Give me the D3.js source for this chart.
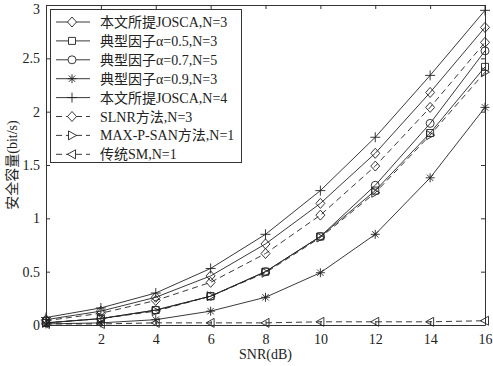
<!DOCTYPE html>
<html>
<head>
<meta charset="utf-8">
<script src="https://cdn.jsdelivr.net/npm/d3@7"></script>
<style>
  body { margin: 0; background: #fff; }
  text { font-family: "Liberation Serif", "Times New Roman", "Noto Sans CJK SC", serif; }
</style>
</head>
<body>
<svg width="493" height="366"></svg>
<script>
(function () {
    'use strict';

    var snr = [0, 2, 4, 6, 8, 10, 12, 14, 16];
    var joscaN3 = [0.05, 0.13, 0.26, 0.46, 0.76, 1.14, 1.61, 2.18, 2.79];
    var alpha05 = [0.02, 0.06, 0.14, 0.27, 0.50, 0.83, 1.26, 1.80, 2.42];
    var alpha07 = [0.02, 0.06, 0.14, 0.27, 0.50, 0.83, 1.31, 1.89, 2.57];
    var alpha09 = [0.01, 0.02, 0.05, 0.13, 0.26, 0.49, 0.85, 1.38, 2.04];
    var joscaN4 = [0.07, 0.16, 0.30, 0.53, 0.85, 1.26, 1.76, 2.34, 2.95];
    var slnr = [0.04, 0.11, 0.23, 0.40, 0.67, 1.03, 1.49, 2.04, 2.65];
    var maxpsan = [0.02, 0.06, 0.13, 0.27, 0.49, 0.82, 1.24, 1.78, 2.37];
    var sm = [0.01, 0.01, 0.02, 0.02, 0.02, 0.03, 0.03, 0.03, 0.04];

    var legendLabels = ['本文所提JOSCA,N=3', '典型因子α=0.5,N=3', '典型因子α=0.7,N=5',
        '典型因子α=0.9,N=3', '本文所提JOSCA,N=4', 'SLNR方法,N=3',
        'MAX-P-SAN方法,N=1', '传统SM,N=1'];
    var xTicks = [2, 4, 6, 8, 10, 12, 14, 16];
    var yTicks = [0, 0.5, 1, 1.5, 2, 2.5, 3];

    var series = [
        {values: joscaN3, marker: 'diamond', dash: null},
        {values: alpha05, marker: 'square', dash: null},
        {values: alpha07, marker: 'circle', dash: null},
        {values: alpha09, marker: 'star', dash: null},
        {values: joscaN4, marker: 'plus', dash: null},
        {values: slnr, marker: 'diamond', dash: '6,4'},
        {values: maxpsan, marker: 'triright', dash: '6,4'},
        {values: sm, marker: 'trileft', dash: '6,4'}
    ];

    var svg = d3.select('svg');
    var left = 46, right = 485, top = 5, bottom = 325;

    var x = d3.scaleLinear().domain([0, 16]).range([left, right]);
    var y = d3.scaleLinear().domain([0, 3]).range([bottom, top]);

    function markerPath(type) {
        switch (type) {
            case 'diamond': return 'M0,-5L4.5,0L0,5L-4.5,0Z';
            case 'square': return 'M-3.5,-3.5H3.5V3.5H-3.5Z';
            case 'circle': return 'M4,0A4,4 0 1,1 -4,0A4,4 0 1,1 4,0Z';
            case 'plus': return 'M-5,0H5M0,-5V5';
            case 'star': return 'M-4.5,0H4.5M0,-4.5V4.5M-3.2,-3.2L3.2,3.2M-3.2,3.2L3.2,-3.2';
            case 'triright': return 'M4.5,0L-3.5,-4.5L-3.5,4.5Z';
            case 'trileft': return 'M-4.5,0L3.5,-4.5L3.5,4.5Z';
        }
    }

    // box + ticks
    var axisColor = '#333';
    var gx = svg.append('g').attr('transform', 'translate(0,' + bottom + ')')
        .call(d3.axisBottom(x).tickValues(xTicks).tickSizeInner(-4).tickSizeOuter(0).tickPadding(9));
    var gxTop = svg.append('g').attr('transform', 'translate(0,' + top + ')')
        .call(d3.axisTop(x).tickValues(xTicks).tickSizeInner(-4).tickSizeOuter(0).tickFormat(''));
    var gy = svg.append('g').attr('transform', 'translate(' + left + ',0)')
        .call(d3.axisLeft(y).tickValues(yTicks).tickSizeInner(-4).tickSizeOuter(0).tickPadding(6)
            .tickFormat(d3.format('')));
    var gyRight = svg.append('g').attr('transform', 'translate(' + right + ',0)')
        .call(d3.axisRight(y).tickValues(yTicks).tickSizeInner(-4).tickSizeOuter(0).tickFormat(''));

    [gx, gxTop, gy, gyRight].forEach(function (g) {
        g.selectAll('path, line').attr('stroke', axisColor);
        g.selectAll('text').attr('fill', '#222').style('font-size', '14px')
            .style('font-family', '"Liberation Serif", serif');
    });
    // keep the top label inside the picture
    gy.selectAll('.tick').filter(function (d) { return d === 3; })
        .select('text').attr('dy', '0.62em');

    var line = d3.line()
        .x(function (d, i) { return x(snr[i]); })
        .y(function (d) { return y(d); });

    var gLines = svg.append('g');
    series.forEach(function (s) {
        gLines.append('path')
            .attr('d', line(s.values))
            .attr('fill', 'none')
            .attr('stroke', '#222')
            .attr('stroke-width', 0.9)
            .attr('stroke-dasharray', s.dash);
        gLines.selectAll(null).data(s.values).enter().append('path')
            .attr('transform', function (d, i) { return 'translate(' + x(snr[i]) + ',' + y(d) + ')'; })
            .attr('d', markerPath(s.marker))
            .attr('fill', 'none')
            .attr('stroke', '#222')
            .attr('stroke-width', 0.9);
    });

    // legend
    var lg = svg.append('g');
    lg.append('rect')
        .attr('x', 50.5).attr('y', 9.5)
        .attr('width', 191).attr('height', 153)
        .attr('fill', '#fff').attr('stroke', axisColor);

    legendLabels.forEach(function (lab, i) {
        var ly = 22 + i * 18.9;
        var s = series[i];
        lg.append('line')
            .attr('x1', 56).attr('x2', 90).attr('y1', ly).attr('y2', ly)
            .attr('stroke', '#222').attr('stroke-width', 0.9)
            .attr('stroke-dasharray', s.dash);
        lg.append('path')
            .attr('transform', 'translate(72,' + ly + ')')
            .attr('d', markerPath(s.marker))
            .attr('fill', '#fff').attr('stroke', '#222').attr('stroke-width', 0.9);
        lg.append('text')
            .attr('x', 100).attr('y', ly + 5)
            .style('font-size', '14px')
            .attr('fill', '#222')
            .text(lab);
    });

    // axis labels
    svg.append('text')
        .attr('x', (left + right) / 2).attr('y', 359)
        .attr('text-anchor', 'middle')
        .style('font-size', '14px').attr('fill', '#222')
        .text('SNR(dB)');
    svg.append('text')
        .attr('transform', 'translate(17,' + ((top + bottom) / 2) + ') rotate(-90)')
        .attr('text-anchor', 'middle')
        .style('font-size', '14px').attr('fill', '#222')
        .text('安全容量(bit/s)');
}());
</script>
</body>
</html>
